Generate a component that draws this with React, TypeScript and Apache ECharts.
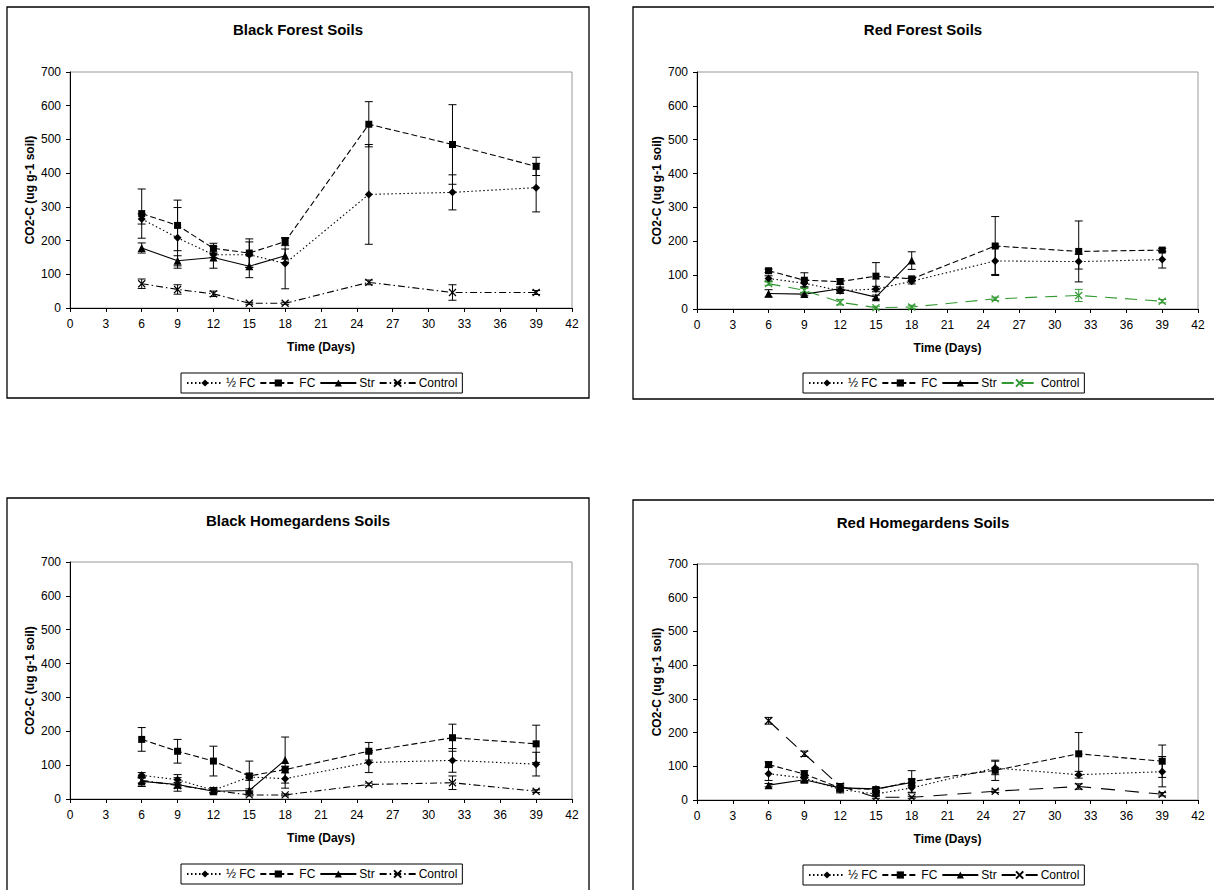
import React, { useEffect, useRef } from 'react';
import * as echarts from 'echarts';

// ---------- data ----------
const days = [6, 9, 12, 15, 18, 25, 32, 39];
const strDays = [6, 9, 12, 15, 18];

const panelTitles = ['Black Forest Soils', 'Red Forest Soils', 'Black Homegardens Soils', 'Red Homegardens Soils'];
const legendLabels = ['½ FC', 'FC', 'Str', 'Control'];
const xAxisTitle = 'Time (Days)';
const yAxisTitle = 'CO2-C (ug g-1 soil)';

// Black Forest
const bfHalf = [264, 208, 158, 158, 132, 337, 343, 357];
const bfHalfErr = [15, 90, 8, 38, 75, 148, 52, 72];
const bfFC = [280, 245, 177, 163, 197, 545, 485, 420];
const bfFCErr = [73, 75, 15, 42, 12, 67, 118, 27];
const bfStr = [178, 140, 150, 124, 155];
const bfStrErr = [15, 15, 32, 34, 20];
const bfCtl = [72, 55, 42, 14, 14, 76, 46, 46];
const bfCtlErr = [14, 14, 8, 3, 3, 7, 23, 6];

// Red Forest
const rfHalf = [90, 76, 54, 59, 82, 142, 140, 146];
const rfHalfErr = [8, 10, 8, 8, 8, 40, 22, 25];
const rfFC = [113, 85, 81, 97, 89, 186, 170, 174];
const rfFCErr = [5, 22, 8, 40, 5, 87, 90, 5];
const rfStr = [46, 44, 60, 35, 143];
const rfStrErr = [11, 5, 5, 6, 26];
const rfCtl = [75, 55, 20, 4, 6, 30, 40, 23];
const rfCtlErr = [5, 6, 8, 4, 5, 5, 18, 5];

// Black Homegardens
const bhHalf = [70, 57, 26, 65, 60, 108, 114, 103];
const bhHalfErr = [8, 15, 8, 10, 28, 30, 35, 35];
const bhFC = [176, 141, 112, 68, 87, 141, 181, 163];
const bhFCErr = [35, 35, 44, 44, 10, 26, 40, 55];
const bhStr = [52, 43, 23, 25, 115];
const bhStrErr = [15, 20, 5, 5, 68];
const bhCtl = [55, 40, 25, 12, 12, 43, 48, 23];
const bhCtlErr = [8, 8, 5, 3, 3, 4, 20, 4];

// Red Homegardens
const rhHalf = [78, 65, 31, 18, 36, 95, 75, 84];
const rhHalfErr = [20, 10, 10, 5, 15, 20, 10, 45];
const rhFC = [105, 77, 36, 31, 55, 88, 137, 115];
const rhFCErr = [8, 10, 12, 5, 32, 30, 63, 48];
const rhStr = [44, 60, 36, 33, 52];
const rhStrErr = [5, 8, 8, 5, 10];
const rhCtl = [235, 137, 41, 8, 8, 26, 40, 17];
const rhCtlErr = [10, 8, 8, 3, 3, 4, 8, 5];

const panelData = [
  [[bfHalf, bfHalfErr], [bfFC, bfFCErr], [bfStr, bfStrErr], [bfCtl, bfCtlErr]],
  [[rfHalf, rfHalfErr], [rfFC, rfFCErr], [rfStr, rfStrErr], [rfCtl, rfCtlErr]],
  [[bhHalf, bhHalfErr], [bhFC, bhFCErr], [bhStr, bhStrErr], [bhCtl, bhCtlErr]],
  [[rhHalf, rhHalfErr], [rhFC, rhFCErr], [rhStr, rhStrErr], [rhCtl, rhCtlErr]],
];

// ---------- layout / style ----------
const FONT = '"Liberation Sans", Arial, sans-serif';
const GREEN = '#339933';

const layout = [
  { box: [7, 7, 582, 391], grid: [70, 72, 502, 236], title: [298, 29], legend: [181, 373] },
  { box: [633, 7, 620, 392], grid: [697, 72, 501, 237], title: [923, 29], legend: [803, 373] },
  { box: [7, 498, 582, 440], grid: [70, 562, 502, 237], title: [298, 520], legend: [181, 864] },
  { box: [633, 500, 620, 440], grid: [697, 564, 501, 236], title: [923, 522], legend: [803, 865] },
];

const XSYM = 'path://M0,0L8,8M8,0L0,8';

function treatmentStyle(p: number, t: number) {
  if (t === 0) return { symbol: 'diamond', size: 8, type: [1.5, 2.5] as any, color: '#000' };
  if (t === 1) return { symbol: 'rect', size: 7, type: [6, 3] as any, color: '#000' };
  if (t === 2) return { symbol: 'triangle', size: 8, type: 'solid' as any, color: '#000' };
  if (p === 1) return { symbol: XSYM, size: 7, type: [12, 8] as any, color: GREEN };
  if (p === 3) return { symbol: XSYM, size: 7, type: [14, 10] as any, color: '#000' };
  return { symbol: XSYM, size: 7, type: [7, 3, 1.5, 3] as any, color: '#000' };
}

function buildOption() {
  const grids: any[] = [];
  const xAxes: any[] = [];
  const yAxes: any[] = [];
  const legends: any[] = [];
  const series: any[] = [];
  const graphics: any[] = [];

  layout.forEach((L, p) => {
    graphics.push({
      type: 'rect',
      shape: { x: L.box[0], y: L.box[1], width: L.box[2], height: L.box[3] },
      style: { fill: 'none', stroke: '#000', lineWidth: 1.3 },
      silent: true,
    });
    graphics.push({
      type: 'text',
      x: L.title[0],
      y: L.title[1],
      style: {
        text: panelTitles[p],
        textAlign: 'center',
        textVerticalAlign: 'middle',
        font: `bold 15px ${FONT}`,
        fill: '#000',
      },
      silent: true,
    });
    grids.push({
      left: L.grid[0], top: L.grid[1], width: L.grid[2], height: L.grid[3],
      show: true, borderColor: '#999', borderWidth: 1, backgroundColor: 'transparent',
    });
    xAxes.push({
      type: 'value', gridIndex: p, min: 0, max: 42, interval: 3,
      axisLine: { show: true, onZero: false, lineStyle: { color: '#000', width: 1 } },
      axisTick: { show: true, length: 4, lineStyle: { color: '#000' } },
      axisLabel: { fontSize: 12, color: '#000', margin: 10, fontFamily: FONT },
      splitLine: { show: false },
      name: xAxisTitle, nameLocation: 'middle', nameGap: 33,
      nameTextStyle: { fontWeight: 'bold', fontSize: 12, color: '#000', fontFamily: FONT },
    });
    yAxes.push({
      type: 'value', gridIndex: p, min: 0, max: 700, interval: 100,
      axisLine: { show: true, onZero: false, lineStyle: { color: '#000', width: 1 } },
      axisTick: { show: true, length: 4, lineStyle: { color: '#000' } },
      axisLabel: { fontSize: 12, color: '#000', margin: 9, fontFamily: FONT },
      splitLine: { show: false },
      name: yAxisTitle, nameLocation: 'middle', nameGap: 34, nameRotate: 90,
      nameTextStyle: { fontWeight: 'bold', fontSize: 12, color: '#000', fontFamily: FONT },
    });

    const legendNames: string[] = [];
    panelData[p].forEach(([vals, errs], t) => {
      const st = treatmentStyle(p, t);
      const xs = t === 2 ? strDays : days;
      const name = `${p}|${legendLabels[t]}`;
      legendNames.push(name);
      const isX = st.symbol === XSYM;
      // error bars
      series.push({
        type: 'custom',
        name: `err${p}-${t}`,
        xAxisIndex: p, yAxisIndex: p,
        silent: true, z: 2,
        data: xs.map((d, k) => [d, Math.max(0, vals[k] - errs[k]), vals[k] + errs[k]]),
        renderItem: (params: any, api: any) => {
          const x = api.value(0);
          const top = api.coord([x, api.value(2)]);
          const bot = api.coord([x, api.value(1)]);
          const w = 4;
          const s = { stroke: st.color, lineWidth: 1 };
          return {
            type: 'group',
            children: [
              { type: 'line', shape: { x1: top[0], y1: top[1], x2: bot[0], y2: bot[1] }, style: s },
              { type: 'line', shape: { x1: top[0] - w, y1: top[1], x2: top[0] + w, y2: top[1] }, style: s },
              { type: 'line', shape: { x1: bot[0] - w, y1: bot[1], x2: bot[0] + w, y2: bot[1] }, style: s },
            ],
          };
        },
      });
      series.push({
        type: 'line',
        name,
        xAxisIndex: p, yAxisIndex: p,
        data: xs.map((d, k) => [d, vals[k]]),
        symbol: st.symbol,
        symbolSize: st.size,
        showSymbol: true,
        z: 3,
        lineStyle: { color: st.color, width: 1.1, type: st.type },
        itemStyle: isX
          ? { color: st.color, borderColor: st.color, borderWidth: 1.2 }
          : { color: st.color, borderWidth: 0 },
      });
    });

    legends.push({
      left: L.legend[0], top: L.legend[1],
      orient: 'horizontal',
      padding: [4, 5],
      itemGap: 4,
      itemWidth: 36,
      itemHeight: 9,
      borderColor: '#000', borderWidth: 1,
      backgroundColor: '#fff',
      selectedMode: false,
      data: legendNames,
      formatter: (n: string) => n.split('|')[1],
      textStyle: { fontSize: 12, color: '#000', fontFamily: FONT, padding: [0, 0, 0, -2] },
    });
  });

  return {
    animation: false,
    backgroundColor: '#fff',
    grid: grids,
    xAxis: xAxes,
    yAxis: yAxes,
    legend: legends,
    series,
    graphic: graphics,
  };
}

export default function App() {
  const ref = useRef<HTMLDivElement>(null);
  useEffect(() => {
    document.body.style.margin = '0';
    const chart = echarts.init(ref.current!, null, { renderer: 'svg' });
    chart.setOption(buildOption() as any);
    return () => chart.dispose();
  }, []);
  return <div ref={ref} style={{ width: 1214, height: 890 }} />;
}
